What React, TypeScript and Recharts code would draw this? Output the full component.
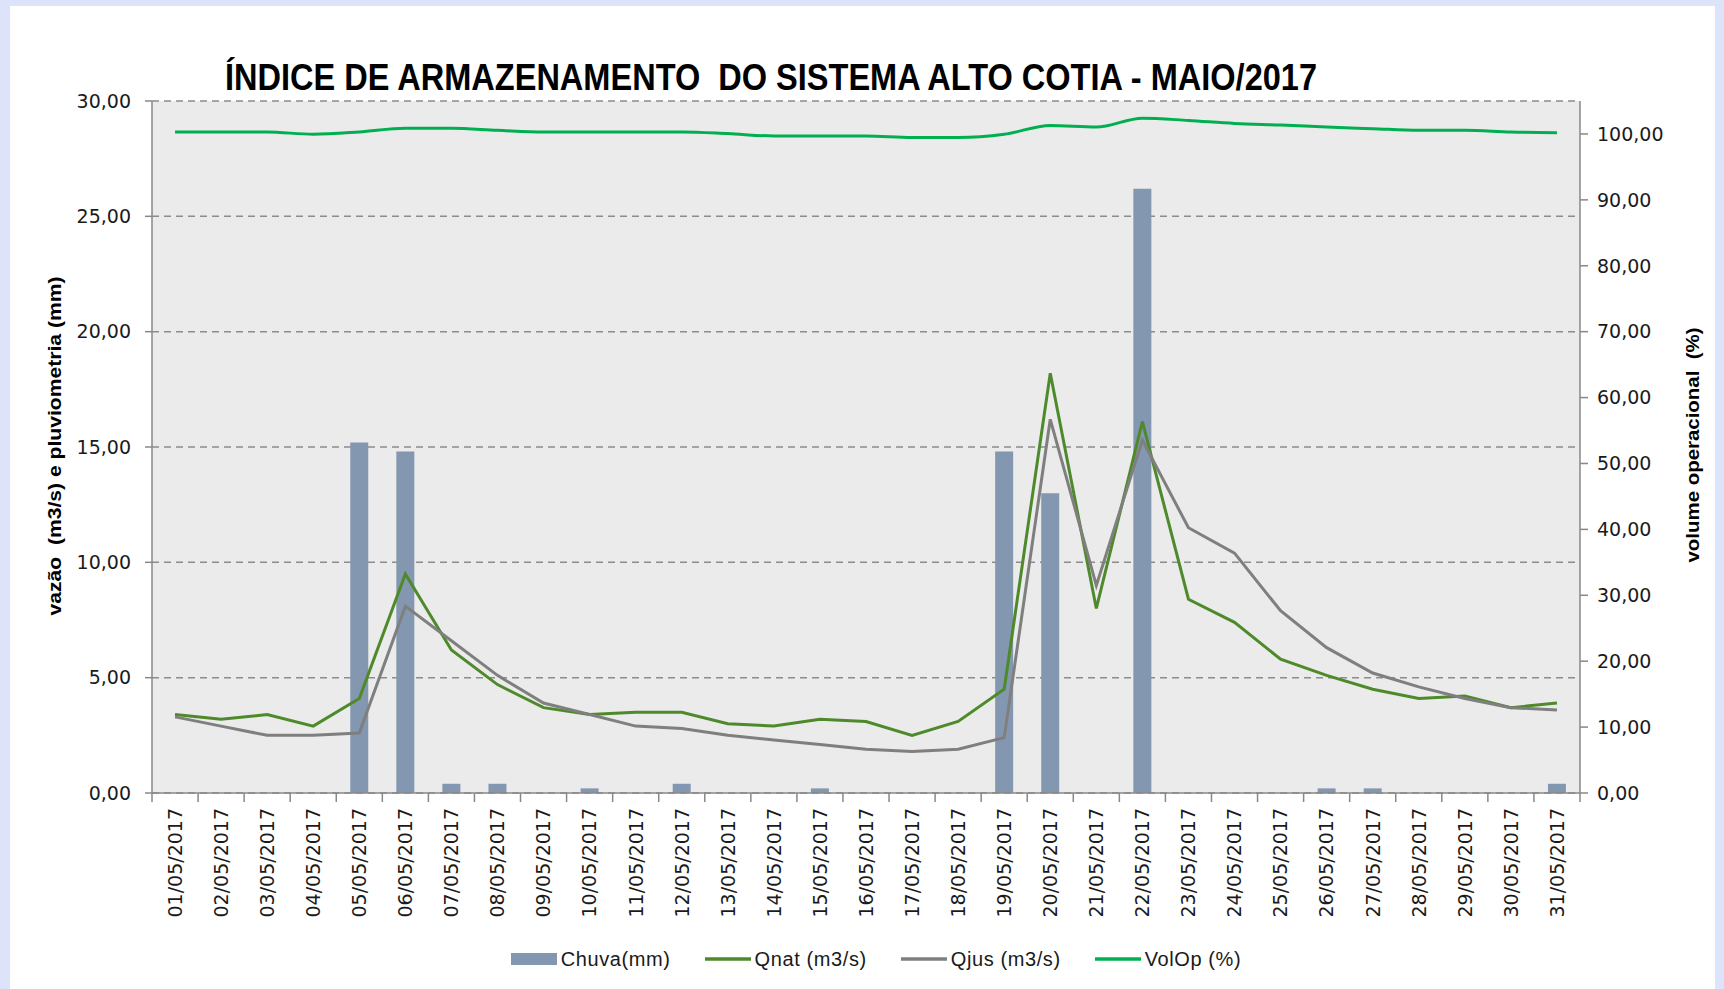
import React from 'react';
import { ComposedChart, Bar, Line, XAxis, YAxis, CartesianGrid, Legend } from 'recharts';

const days = [
  '01/05/2017', '02/05/2017', '03/05/2017', '04/05/2017', '05/05/2017', '06/05/2017', '07/05/2017',
  '08/05/2017', '09/05/2017', '10/05/2017', '11/05/2017', '12/05/2017', '13/05/2017', '14/05/2017',
  '15/05/2017', '16/05/2017', '17/05/2017', '18/05/2017', '19/05/2017', '20/05/2017', '21/05/2017',
  '22/05/2017', '23/05/2017', '24/05/2017', '25/05/2017', '26/05/2017', '27/05/2017', '28/05/2017',
  '29/05/2017', '30/05/2017', '31/05/2017',
];

const chuva = [0, 0, 0, 0, 15.2, 14.8, 0.4, 0.4, 0, 0.2, 0, 0.4, 0, 0, 0.2, 0, 0, 0, 14.8, 13.0, 0, 26.2, 0, 0, 0, 0.2, 0.2, 0, 0, 0, 0.4];
const qnat = [3.4, 3.2, 3.4, 2.9, 4.1, 9.5, 6.2, 4.7, 3.7, 3.4, 3.5, 3.5, 3.0, 2.9, 3.2, 3.1, 2.5, 3.1, 4.5, 18.2, 8.0, 16.1, 8.4, 7.4, 5.8, 5.1, 4.5, 4.1, 4.2, 3.7, 3.9];
const qjus = [3.3, 2.9, 2.5, 2.5, 2.6, 8.1, 6.6, 5.1, 3.9, 3.4, 2.9, 2.8, 2.5, 2.3, 2.1, 1.9, 1.8, 1.9, 2.4, 16.2, 9.0, 15.3, 11.5, 10.4, 7.9, 6.3, 5.2, 4.6, 4.1, 3.7, 3.6];
const volop = [100.3, 100.3, 100.3, 99.95, 100.3, 100.85, 100.85, 100.55, 100.3, 100.3, 100.3, 100.3, 100.05, 99.7, 99.7, 99.7, 99.45, 99.45, 99.95, 101.3, 101.05, 102.4, 102.05, 101.6, 101.35, 101.05, 100.8, 100.55, 100.55, 100.3, 100.2];

const leftTicks = [0, 5, 10, 15, 20, 25, 30];
const rightTicks = [0, 10, 20, 30, 40, 50, 60, 70, 80, 90, 100];

const seriesKeys = ['chuva', 'qnat', 'qjus', 'volop'] as const;
const seriesNames: Record<string, string> = {
  chuva: 'Chuva(mm)',
  qnat: 'Qnat (m3/s)',
  qjus: 'Qjus (m3/s)',
  volop: 'VolOp (%)',
};
const seriesColors: Record<string, string> = {
  chuva: '#8497b0',
  qnat: '#4e8a2b',
  qjus: '#7f7f7f',
  volop: '#00b050',
};

const data = days.map((d, i) => ({ day: d, chuva: chuva[i], qnat: qnat[i], qjus: qjus[i], volop: volop[i] }));

const fmt = (v: number) => v.toFixed(2).replace('.', ',');

const AXIS_COLOR = '#888888';
const TICK_FONT = '"DejaVu Sans", Verdana, sans-serif';
const TITLE_FONT = '"Liberation Sans Narrow", "Arial Narrow", "Liberation Sans", Arial, sans-serif';

const XTick = (props: any) => {
  const { x, y, payload, index, visibleTicksCount } = props;
  const half = payload && typeof payload.offset === 'number' && payload.offset > 0 ? payload.offset : 23;
  const isLast = index === (visibleTicksCount ? visibleTicksCount - 1 : days.length - 1);
  return (
    <g>
      <line x1={x - half} y1={y} x2={x - half} y2={y + 9} stroke={AXIS_COLOR} strokeWidth={1.5} />
      {isLast && <line x1={x + half} y1={y} x2={x + half} y2={y + 9} stroke={AXIS_COLOR} strokeWidth={1.5} />}
      <text
        x={x}
        y={y + 15}
        dy="0.36em"
        textAnchor="end"
        transform={`rotate(-90, ${x}, ${y + 15})`}
        fontFamily={TICK_FONT}
        fontSize={19}
        fill="#1a1a1a"
      >
        {payload.value}
      </text>
    </g>
  );
};

const LeftTitle = () => (
  <text
    x={0}
    y={0}
    transform="translate(61, 446) rotate(-90)"
    textAnchor="middle"
    fontFamily={TITLE_FONT}
    fontWeight="bold"
    fontSize={18}
    textLength={339}
    lengthAdjust="spacingAndGlyphs"
    fill="#000"
    style={{ whiteSpace: 'pre' }}
  >
    {'vazão  (m3/s) e pluviometria (mm)'}
  </text>
);

const RightTitle = () => (
  <text
    x={0}
    y={0}
    transform="translate(1699, 445) rotate(-90)"
    textAnchor="middle"
    fontFamily={TITLE_FONT}
    fontWeight="bold"
    fontSize={18}
    textLength={235}
    lengthAdjust="spacingAndGlyphs"
    fill="#000"
    style={{ whiteSpace: 'pre' }}
  >
    {'volume operacional  (%)'}
  </text>
);

const renderLegend = () => (
  <div style={{ display: 'flex', justifyContent: 'center', alignItems: 'center', height: 40, gap: 34 }}>
    {seriesKeys.map((key) => {
      const isBar = key === 'chuva';
      return (
        <div key={key} style={{ display: 'flex', alignItems: 'center' }}>
          <svg width={46} height={14} style={{ display: 'block' }}>
            {isBar ? (
              <rect x={0} y={1} width={46} height={12} fill={seriesColors[key]} />
            ) : (
              <line x1={0} y1={7} x2={46} y2={7} stroke={seriesColors[key]} strokeWidth={3.5} />
            )}
          </svg>
          <span
            style={{
              fontFamily: '"Liberation Sans", Arial, sans-serif',
              fontSize: 20,
              color: '#1a1a1a',
              marginLeft: 4,
              letterSpacing: 0.6,
              whiteSpace: 'pre',
            }}
          >
            {seriesNames[key]}
          </span>
        </div>
      );
    })}
  </div>
);

export default function App() {
  return (
    <div style={{ position: 'absolute', left: 0, top: 0, width: 1724, height: 989, background: '#dce3fb', overflow: 'hidden' }}>
      <div style={{ position: 'absolute', left: 10, top: 6, width: 1705, height: 983, background: '#ffffff' }} />
      <div style={{ position: 'absolute', left: 0, top: 0 }}>
        <ComposedChart
          width={1724}
          height={989}
          data={data}
          margin={{ top: 101, right: 64, left: 92, bottom: 10 }}
        >
          <CartesianGrid
            yAxisId="left"
            vertical={false}
            fill="#ebebeb"
            stroke="#8c8c8c"
            strokeWidth={1.5}
            strokeDasharray="7 5"
          />
          <XAxis
            dataKey="day"
            height={146}
            interval={0}
            tickLine={false}
            tickSize={0}
            tickMargin={0}
            axisLine={{ stroke: AXIS_COLOR, strokeWidth: 1.5 }}
            tick={<XTick />}
          />
          <YAxis
            yAxisId="left"
            orientation="left"
            width={60}
            domain={[0, 30]}
            ticks={leftTicks}
            interval={0}
            tickFormatter={fmt}
            tickSize={7}
            tickMargin={14}
            axisLine={{ stroke: AXIS_COLOR, strokeWidth: 1.5 }}
            tickLine={{ stroke: AXIS_COLOR, strokeWidth: 1.5 }}
            tick={{ fontFamily: TICK_FONT, fontSize: 19, fill: '#1a1a1a' }}
            label={<LeftTitle />}
          />
          <YAxis
            yAxisId="right"
            orientation="right"
            width={80}
            domain={[0, 105]}
            ticks={rightTicks}
            interval={0}
            tickFormatter={fmt}
            tickSize={8}
            tickMargin={9}
            axisLine={{ stroke: AXIS_COLOR, strokeWidth: 1.5 }}
            tickLine={{ stroke: AXIS_COLOR, strokeWidth: 1.5 }}
            tick={{ fontFamily: TICK_FONT, fontSize: 19, fill: '#1a1a1a' }}
            label={<RightTitle />}
          />
          <Bar yAxisId="left" dataKey="chuva" name={seriesNames.chuva} fill={seriesColors.chuva} barSize={18} isAnimationActive={false} />
          <Line yAxisId="left" type="linear" dataKey="qnat" name={seriesNames.qnat} stroke={seriesColors.qnat} strokeWidth={3} dot={false} isAnimationActive={false} />
          <Line yAxisId="left" type="linear" dataKey="qjus" name={seriesNames.qjus} stroke={seriesColors.qjus} strokeWidth={3} dot={false} isAnimationActive={false} />
          <Line yAxisId="right" type="monotone" dataKey="volop" name={seriesNames.volop} stroke={seriesColors.volop} strokeWidth={3} dot={false} isAnimationActive={false} />
          <Legend verticalAlign="bottom" height={40} wrapperStyle={{ height: 40 }} content={renderLegend} />
        </ComposedChart>
      </div>
      <svg width={1724} height={100} style={{ position: 'absolute', left: 0, top: 0 }}>
        <text
          x={225}
          y={90}
          fontFamily={TITLE_FONT}
          fontWeight="bold"
          fontSize={36}
          textLength={1092}
          lengthAdjust="spacingAndGlyphs"
          fill="#000"
          style={{ whiteSpace: 'pre' }}
        >
          {'ÍNDICE DE ARMAZENAMENTO  DO SISTEMA ALTO COTIA - MAIO/2017'}
        </text>
      </svg>
    </div>
  );
}
